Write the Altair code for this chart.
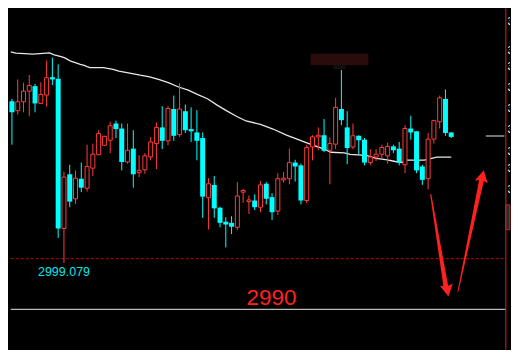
import altair as alt
import pandas as pd

# ---------------- data ----------------
# candle index (0 = leftmost) and OHLC prices
opens = [3027.3, 3025.6, 3027.2, 3029.1, 3030.0, 3026.9, 3028.4, 3031.6, 3031.3, 3004.5,
         3014.2, 3009.8, 3013.4, 3011.7, 3015.3, 3017.7, 3019.4, 3020.3, 3023.3, 3022.4,
         3016.4, 3018.8, 3014.5, 3015.0, 3017.3, 3019.7, 3022.6, 3020.2, 3025.9, 3021.3,
         3025.5, 3022.3, 3021.7, 3020.7, 3010.0, 3012.3, 3008.2, 3005.7, 3005.5, 3004.7,
         3011.0, 3009.3, 3009.5, 3008.3, 3012.5, 3010.1, 3007.6, 3013.2, 3013.4, 3016.3,
         3015.8, 3009.5, 3019.1, 3020.9, 3021.2, 3018.5, 3019.6, 3025.9, 3022.6, 3019.1,
         3021.1, 3020.4, 3016.3, 3017.3, 3017.8, 3017.5, 3019.2, 3018.8, 3015.9, 3022.4,
         3021.9, 3015.6, 3013.4, 3020.5, 3023.6, 3027.7, 3021.7]
highs = [3027.7, 3031.2, 3030.6, 3032.0, 3030.4, 3030.7, 3034.6, 3035.1, 3033.9, 3014.7,
         3015.9, 3014.9, 3016.3, 3019.5, 3019.7, 3022.1, 3021.1, 3023.6, 3023.8, 3023.3,
         3023.3, 3022.1, 3017.6, 3018.0, 3020.9, 3023.5, 3026.4, 3026.4, 3028.3, 3030.5,
         3026.7, 3026.2, 3025.7, 3021.7, 3013.5, 3013.9, 3008.4, 3006.5, 3006.7, 3012.8,
         3011.6, 3010.4, 3010.6, 3013.0, 3012.8, 3010.8, 3014.4, 3014.6, 3018.8, 3016.8,
         3016.1, 3019.5, 3021.2, 3022.6, 3024.1, 3020.8, 3027.9, 3032.9, 3025.5, 3023.3,
         3021.2, 3020.7, 3018.7, 3018.7, 3019.5, 3019.9, 3019.5, 3020.0, 3023.0, 3024.7,
         3021.9, 3015.9, 3021.6, 3024.0, 3028.3, 3029.4, 3021.7]
lows = [3019.5, 3024.9, 3025.3, 3024.6, 3025.3, 3026.9, 3026.3, 3030.2, 3002.8, 2998.3,
        3008.3, 3008.9, 3011.0, 3011.1, 3013.9, 3017.7, 3019.3, 3018.0, 3020.7, 3014.9,
        3016.1, 3011.8, 3013.7, 3014.3, 3016.7, 3015.1, 3018.7, 3019.4, 3020.2, 3020.9,
        3021.6, 3020.0, 3016.7, 3006.4, 3004.3, 3006.4, 3004.7, 3001.1, 3003.5, 3004.2,
        3009.1, 3007.1, 3007.8, 3007.4, 3008.8, 3006.0, 3006.9, 3012.7, 3012.4, 3012.9,
        3008.8, 3009.0, 3016.7, 3018.5, 3018.2, 3012.4, 3018.7, 3023.0, 3016.0, 3018.7,
        3017.8, 3015.8, 3015.8, 3016.6, 3017.1, 3016.1, 3018.0, 3015.8, 3014.4, 3020.4,
        3014.4, 3012.3, 3011.5, 3019.7, 3022.4, 3021.1, 3020.7]
closes = [3025.3, 3027.2, 3029.1, 3030.1, 3026.9, 3028.5, 3031.5, 3031.2, 3004.5, 3013.7,
          3009.3, 3013.5, 3011.8, 3015.6, 3017.8, 3021.5, 3021.0, 3022.9, 3022.3, 3016.4,
          3018.5, 3014.2, 3014.9, 3017.5, 3020.0, 3022.6, 3020.2, 3026.0, 3021.1, 3025.9,
          3022.1, 3021.9, 3020.2, 3010.2, 3012.5, 3008.1, 3005.5, 3005.2, 3004.8, 3010.3,
          3011.3, 3009.6, 3008.3, 3012.3, 3009.8, 3007.4, 3013.4, 3013.5, 3016.3, 3015.6,
          3009.5, 3019.0, 3020.9, 3021.2, 3018.4, 3019.7, 3026.2, 3023.9, 3018.9, 3021.1,
          3020.3, 3016.3, 3017.3, 3017.8, 3019.0, 3019.2, 3018.5, 3016.3, 3022.4, 3021.7,
          3014.9, 3013.2, 3020.5, 3023.8, 3027.9, 3021.6, 3020.9]

# moving average line (candle position, price)
ma_pos = [-0.2, 0.67, 3.67, 6.5, 7.33, 8.0, 8.5, 9.17, 9.67, 10.17, 10.83, 11.33, 11.83, 12.5,
          13.0, 13.5, 15.83, 16.33, 17.5, 18.5, 19.67, 20.83, 22.17, 23.83, 25.5, 27.17,
          28.83, 30.5, 32.17, 33.83, 35.5, 37.17, 38.83, 40.5, 43.0, 45.17, 47.5, 49.67,
          51.83, 54.17, 55.17, 57.5, 58.5, 61.33, 63.0, 64.67, 66.33, 67.5, 68.33, 71.33,
          73.5, 76.0]
ma_val = [3036.13, 3035.90, 3035.73, 3035.95, 3035.61, 3035.44, 3035.27, 3035.05, 3034.76,
          3034.46, 3034.24, 3034.07, 3033.90, 3033.73, 3033.51, 3033.33, 3033.33, 3033.21,
          3032.99, 3032.70, 3032.48, 3032.24, 3031.96, 3031.67, 3031.16, 3030.59, 3029.84,
          3029.28, 3028.47, 3027.74, 3026.59, 3025.56, 3024.60, 3023.75, 3023.16, 3022.31,
          3021.23, 3020.37, 3019.52, 3018.66, 3018.15, 3018.03, 3017.75, 3017.58, 3017.07,
          3016.83, 3016.49, 3016.32, 3016.73, 3016.73, 3017.29, 3017.29]

# price-scale labels at the right edge (only their first pixels are visible)
axis_prices = [3041.43, 3036.30, 3033.39, 3029.62, 3025.85, 3022.09, 3018.15, 3015.07, 3011.47]
axis_labels = ["3041.4", "3036.3", "3033.4", "3029.6", "3025.9", "3022.1", "3018.2", "3015.1", "3011.5"]

low_price = 2999.079
low_label = "2999.079"
support_price = 2990.0
support_label = "2990"

XD = [-0.333, 86.167]
YD = [2982.71, 3044.0]

RED = "#ff3b3b"
CYAN = "#00ffff"
ARROW = "#ff2020"

n = len(opens)
candles = pd.DataFrame({"i": list(range(n)), "open": opens, "high": highs,
                        "low": lows, "close": closes})
ma = pd.DataFrame({"i": ma_pos, "v": ma_val})

xs = alt.Scale(domain=XD, nice=False, zero=False, padding=0)
ys = alt.Scale(domain=YD, nice=False, zero=False, padding=0)


def X(f):
    return alt.X(f, type="quantitative", scale=xs, axis=None)


def Y(f):
    return alt.Y(f, type="quantitative", scale=ys, axis=None)


base = alt.Chart(candles).transform_calculate(
    dir="datum.close >= datum.open ? 'up' : 'down'")

# censored box at top
boxes = pd.DataFrame({"x1": [51.67, 55.6], "x2": [61.67, 57.7],
                      "y1": [3035.78, 3033.73], "y2": [3033.73, 3033.05],
                      "c": ["#2a0c0c", "#141010"]})
box_layer = alt.Chart(boxes).mark_rect().encode(
    x=X("x1"), x2="x2", y=Y("y1"), y2="y2", color=alt.Color("c:N", scale=None))

# horizontal reference lines
hl = pd.DataFrame({"x1": [-0.2], "x2": [85.4], "y": [low_price]})
dashed = alt.Chart(hl).mark_rule(color="#c00000", strokeWidth=1, strokeDash=[3, 2]).encode(
    x=X("x1"), x2="x2", y=Y("y"))
sl = pd.DataFrame({"x1": [-0.2], "x2": [85.4], "y": [support_price]})
solid = alt.Chart(sl).mark_rule(color="#e6e6e6", strokeWidth=1).encode(
    x=X("x1"), x2="x2", y=Y("y"))
cur = pd.DataFrame({"x1": [82.0], "x2": [85.2], "y": [3021.06]})
cur_line = alt.Chart(cur).mark_rule(color="#e6e6e6", strokeWidth=1).encode(
    x=X("x1"), x2="x2", y=Y("y"))

# right edge: red separator, price labels and price box
vr = pd.DataFrame({"x": [85.45], "y1": [YD[0] + 0.1], "y2": [YD[1] - 0.1]})
vline = alt.Chart(vr).mark_rule(color="#d02424", strokeWidth=1).encode(
    x=X("x"), y=Y("y1"), y2="y2")
ax = pd.DataFrame({"x": [85.72] * len(axis_prices), "y": axis_prices, "t": axis_labels})
axis_text = alt.Chart(ax).mark_text(align="left", baseline="middle", font="Liberation Sans",
                                    fontSize=11, color="#ffffff", clip=True).encode(
    x=X("x"), y=Y("y"), text="t:N")
pbox = pd.DataFrame({"x1": [85.45], "x2": [86.15], "y1": [3008.73], "y2": [3004.28]})
pbox_layer = alt.Chart(pbox).mark_rect(fill="#2c2c2c", stroke="#d02424", strokeWidth=1).encode(
    x=X("x1"), x2="x2", y=Y("y1"), y2="y2")

# moving average
ma_layer = alt.Chart(ma).mark_line(color="#e8e8e8", strokeWidth=1.3).encode(
    x=X("i"), y=Y("v"))

# candles
wicks = base.mark_rule(strokeWidth=1).encode(
    x=X("i"), y=Y("low"), y2="high",
    color=alt.Color("dir:N", scale=alt.Scale(domain=["up", "down"], range=[RED, CYAN]),
                    legend=None))
down_bodies = base.transform_filter("datum.close < datum.open").mark_bar(
    size=5, color=CYAN).encode(x=X("i"), y=Y("open"), y2="close")
up_bodies = base.transform_filter("datum.close >= datum.open").mark_bar(
    size=4, fill="#000000", stroke=RED, strokeWidth=1).encode(
    x=X("i"), y=Y("open"), y2="close")

# labels
t1 = pd.DataFrame({"x": [4.5], "y": [2996.06], "t": [low_label]})
low_text = alt.Chart(t1).mark_text(align="left", baseline="alphabetic", font="Liberation Sans",
                                   fontSize=12.5, color="#00e8e8").encode(
    x=X("x"), y=Y("y"), text="t:N")
t2 = pd.DataFrame({"x": [44.92], "y": [2990.76], "t": [support_label]})
sup_text = alt.Chart(t2).mark_text(align="center", baseline="alphabetic", font="Liberation Sans",
                                   fontSize=22.5, color="#ff2020").encode(
    x=X("x"), y=Y("y"), text="t:N")

# arrows
a1 = pd.DataFrame({"x": [72.45, 75.08], "y": [3010.62, 2994.01], "w": [1.2, 4.8]})
a2 = pd.DataFrame({"x": [77.17, 81.25], "y": [2993.21, 3013.18], "w": [0.9, 4.8]})
shaft1 = alt.Chart(a1).mark_trail(color=ARROW).encode(
    x=X("x"), y=Y("y"), size=alt.Size("w:Q", scale=None))
shaft2 = alt.Chart(a2).mark_trail(color=ARROW).encode(
    x=X("x"), y=Y("y"), size=alt.Size("w:Q", scale=None))
heads = pd.DataFrame({"x": [75.32, 81.39], "y": [2993.44, 3013.80], "a": [170.3, 11.9]})
head_layer = alt.Chart(heads).mark_point(
    shape="M0,-1L1,0.85L0,0.55L-1,0.85Z", filled=True, size=170, opacity=1,
    color=ARROW, strokeWidth=0).encode(
    x=X("x"), y=Y("y"), angle=alt.Angle("a:Q", scale=None))

chart = alt.layer(
    box_layer, dashed, solid, cur_line, vline, axis_text, pbox_layer, ma_layer,
    wicks, down_bodies, up_bodies, low_text, sup_text,
    shaft1, shaft2, head_layer
).properties(
    width=503, height=342,
    autosize=alt.AutoSizeParams(type="fit", contains="padding"),
    padding=0, background="#000000"
).configure_view(stroke=None)

chart.save("out.html", embed_options={"renderer": "svg", "actions": False})
